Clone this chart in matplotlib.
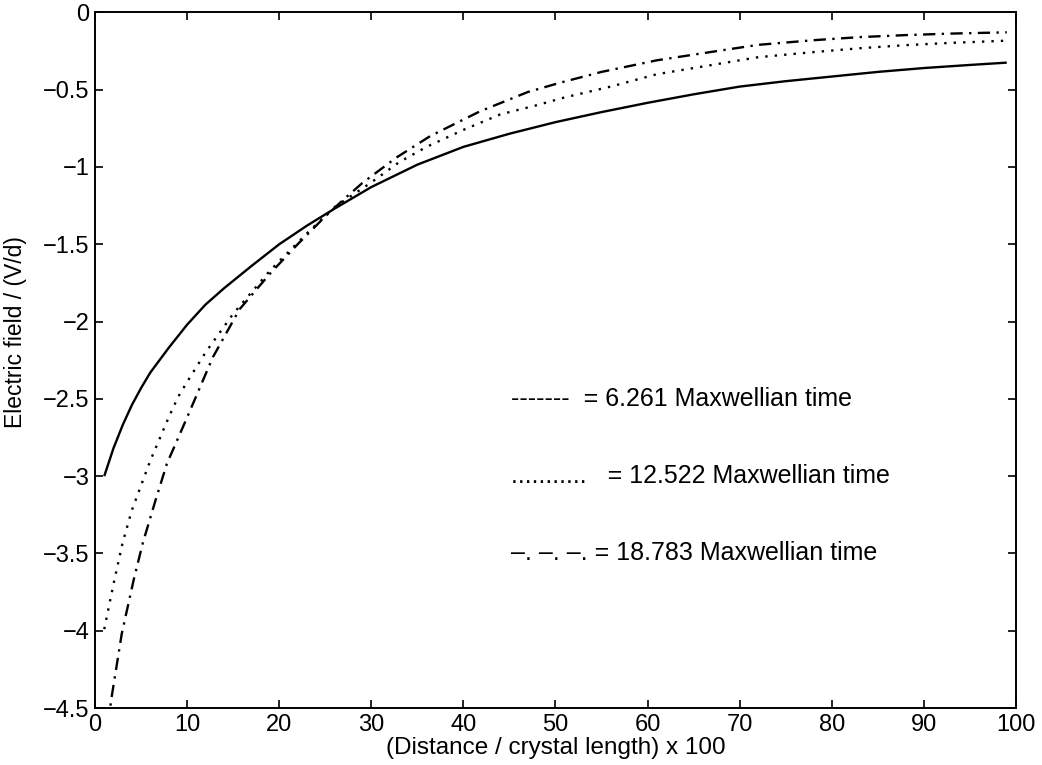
import matplotlib
matplotlib.use("Agg")
import matplotlib.pyplot as plt

plt.rcParams['font.family'] = ['Liberation Sans', 'DejaVu Sans']

# Electric field profiles along the crystal at three times
x_t1 = [1, 2, 3, 4, 5, 6, 7, 8, 10, 12, 14, 17, 20, 23, 26, 30, 35, 40, 45,
        50, 55, 60, 65, 70, 75, 80, 85, 90, 95, 99]
e_t1 = [-3.00, -2.82, -2.67, -2.54, -2.43, -2.33, -2.25, -2.17, -2.02, -1.89,
        -1.785, -1.64, -1.50, -1.38, -1.27, -1.13, -0.985, -0.87, -0.785,
        -0.71, -0.645, -0.585, -0.53, -0.48, -0.445, -0.415, -0.385, -0.36,
        -0.34, -0.325]

x_t2 = [1, 2, 3, 4, 5, 6, 7, 8, 9, 10, 12, 15, 19, 23, 26, 30, 33, 36, 40,
        44, 48, 51, 56, 61, 67, 72, 78, 83, 88, 93, 99]
e_t2 = [-3.99, -3.70, -3.43, -3.22, -3.06, -2.90, -2.76, -2.62, -2.49, -2.39,
        -2.20, -1.95, -1.67, -1.43, -1.26, -1.10, -0.97, -0.87, -0.76, -0.66,
        -0.60, -0.55, -0.48, -0.40, -0.34, -0.29, -0.257, -0.232, -0.212,
        -0.197, -0.183]

x_t3 = [1, 1.8, 2.9, 4.2, 5.2, 6.5, 7.8, 10, 12.8, 15.7, 19, 22, 25, 27, 29,
        32.7, 36.4, 41.8, 47, 50.5, 55, 61, 67, 72, 78, 83, 88, 93, 99]
e_t3 = [-4.78, -4.43, -4.02, -3.67, -3.43, -3.17, -2.92, -2.62, -2.23, -1.92,
        -1.69, -1.50, -1.32, -1.21, -1.105, -0.94, -0.80, -0.64, -0.515,
        -0.455, -0.385, -0.31, -0.255, -0.21, -0.18, -0.16, -0.147, -0.137,
        -0.129]

x_ticks = [0, 10, 20, 30, 40, 50, 60, 70, 80, 90, 100]
y_ticks = [-4.5, -4, -3.5, -3, -2.5, -2, -1.5, -1, -0.5, 0]
y_tick_labels = ["\u22124.5", "\u22124", "\u22123.5", "\u22123", "\u22122.5",
                 "\u22122", "\u22121.5", "\u22121", "\u22120.5", "0"]

notes = ["-------  = 6.261 Maxwellian time",
         "...........   = 12.522 Maxwellian time",
         "\u2013. \u2013. \u2013. = 18.783 Maxwellian time"]
note_y = [-2.5, -3.0, -3.5]

fig = plt.figure(figsize=(10.42, 7.65), dpi=100)
ax = fig.add_axes([0.0912, 0.0745, 0.8838, 0.9093])

lw = 1.7
ax.plot(x_t1, e_t1, color="black", lw=lw, solid_capstyle="butt")
ax.plot(x_t2, e_t2, color="black", lw=lw, dashes=(1.0, 3.0))
ax.plot(x_t3, e_t3, color="black", lw=lw, dashes=(5.2, 2.7, 1.0, 2.7))

ax.set_xlim(0, 100)
ax.set_ylim(-4.5, 0)
ax.set_xticks(x_ticks)
ax.set_xticklabels([str(v) for v in x_ticks])
ax.set_yticks(y_ticks)
ax.set_yticklabels(y_tick_labels)

ax.tick_params(direction="in", length=6, width=1.2, top=True, right=True,
               labelsize=17, pad=4)
for sp in ax.spines.values():
    sp.set_linewidth(1.4)

ax.set_xlabel("(Distance / crystal length) x 100", fontsize=17.5, labelpad=1)
ax.set_ylabel("Electric field / (V/d)", fontsize=16.5)
ax.yaxis.set_label_coords(-0.074, 0.54)

for txt, yv in zip(notes, note_y):
    ax.text(45.2, yv, txt, fontsize=18, va="center", ha="left")

fig.savefig("out.png", dpi=100, facecolor="white")
